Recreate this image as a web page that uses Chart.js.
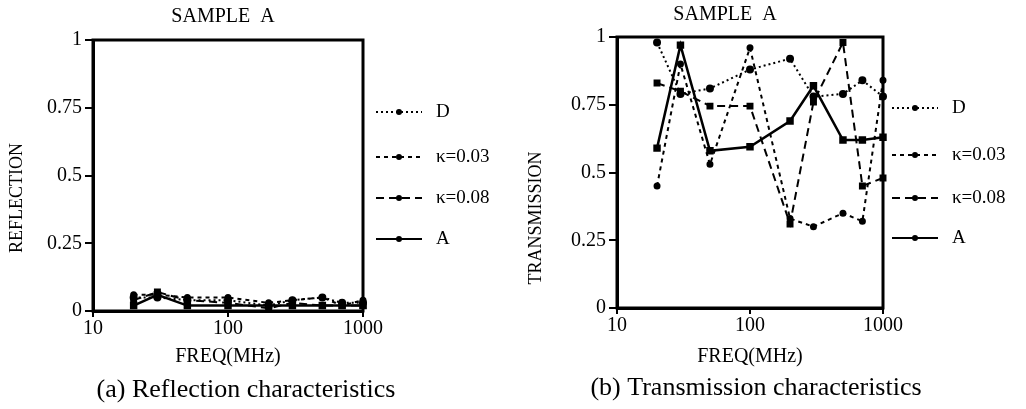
<!DOCTYPE html>
<html>
<head>
<meta charset="utf-8">
<script src="https://cdn.jsdelivr.net/npm/chart.js@4.4.1/dist/chart.umd.min.js"></script>
<style>
  html, body { margin: 0; padding: 0; background: #fff; }
  .panel { position: absolute; top: 0; width: 513px; height: 409px; }
  #left { left: 0; }
  #right { left: 513px; }
</style>
</head>
<body>
<div class="panel" id="left"><canvas id="reflChart" width="513" height="409"></canvas></div>
<div class="panel" id="right"><canvas id="transChart" width="513" height="409"></canvas></div>
<script>
// frequencies (MHz) and tick labels
const freqs = [20, 30, 50, 100, 200, 300, 500, 700, 1000];
const xTicks = [10, 100, 1000];
const yTicks = [0, 0.25, 0.5, 0.75, 1];
const seriesNames = ['D', 'κ=0.03', 'κ=0.08', 'A'];

// reflection values
const reflD   = [0.05, 0.05, 0.04, 0.04, 0.02, 0.04, 0.05, 0.03, 0.03];
const refl003 = [0.06, 0.06, 0.05, 0.05, 0.03, 0.04, 0.05, 0.02, 0.04];
const refl008 = [0.04, 0.07, 0.04, 0.03, 0.01, 0.03, 0.02, 0.02, 0.02];
const reflA   = [0.02, 0.06, 0.02, 0.02, 0.02, 0.02, 0.02, 0.02, 0.02];

// transmission values
const transD   = [0.98, 0.79, 0.81, 0.88, 0.92, 0.78, 0.79, 0.84, 0.78];
const trans003 = [0.45, 0.90, 0.53, 0.96, 0.33, 0.30, 0.35, 0.32, 0.84];
const trans008 = [0.83, 0.80, 0.745, 0.745, 0.31, 0.76, 0.98, 0.45, 0.48];
const transA   = [0.59, 0.97, 0.58, 0.595, 0.69, 0.82, 0.62, 0.62, 0.63];

const FONT = "'Liberation Serif', 'Times New Roman', serif";

const styles = [
  { borderDash: [2, 3], borderWidth: 2, pointStyle: 'circle', pointRadius: 3 },
  { borderDash: [4, 4], borderWidth: 2, pointStyle: 'circle', pointRadius: 2.5 },
  { borderDash: [8, 5], borderWidth: 2, pointStyle: 'rect', pointRadius: 3.5 },
  { borderDash: [], borderWidth: 2.5, pointStyle: 'rect', pointRadius: 3.5 }
];

function makeDatasets(seriesList) {
  return seriesList.map((vals, i) => ({
    label: seriesNames[i],
    data: freqs.map((f, j) => ({ x: f, y: vals[j] })),
    borderColor: '#000',
    backgroundColor: '#000',
    pointBackgroundColor: '#000',
    pointBorderColor: '#000',
    tension: 0,
    clip: false,
    ...styles[i]
  }));
}

// full box around the plot, title over the plot, y title, caption and hand-placed legend
const framePlugin = {
  id: 'frame',
  afterDraw(chart, args, opts) {
    const { ctx, chartArea } = chart;
    ctx.save();
    ctx.strokeStyle = '#000';
    ctx.lineWidth = 3;
    ctx.strokeRect(chartArea.left, chartArea.top, chartArea.right - chartArea.left, chartArea.bottom - chartArea.top);

    ctx.fillStyle = '#000';
    ctx.textBaseline = 'middle';
    ctx.textAlign = 'center';
    ctx.font = '20px ' + FONT;
    ctx.fillText('SAMPLE  A', opts.titleX, opts.titleY);
    ctx.font = '26px ' + FONT;
    ctx.fillText(opts.caption, opts.captionX, opts.captionY);

    ctx.save();
    ctx.translate(opts.yTitleX, opts.yTitleY);
    ctx.rotate(-Math.PI / 2);
    ctx.font = '18px ' + FONT;
    ctx.fillText(opts.yTitle, 0, 0);
    ctx.restore();

    // legend
    ctx.textAlign = 'left';
    ctx.font = '19px ' + FONT;
    chart.data.datasets.forEach((ds, i) => {
      const y = opts.legendY[i];
      ctx.beginPath();
      ctx.setLineDash(ds.borderDash || []);
      ctx.lineWidth = 2;
      ctx.moveTo(opts.legendX, y);
      ctx.lineTo(opts.legendX + opts.legendLen, y);
      ctx.stroke();
      ctx.setLineDash([]);
      ctx.beginPath();
      ctx.arc(opts.legendX + opts.legendLen / 2, y, 3, 0, Math.PI * 2);
      ctx.fill();
      ctx.fillText(ds.label, opts.legendX + opts.legendLen + 14, y);
    });
    ctx.restore();
  }
};

function makeChart(id, seriesList, yTitle, caption, geo) {
  const ctx = document.getElementById(id).getContext('2d');
  return new Chart(ctx, {
    type: 'line',
    data: { datasets: makeDatasets(seriesList) },
    plugins: [framePlugin],
    options: {
      responsive: false,
      animation: false,
      layout: { padding: { left: 0, right: geo.padRight, top: geo.padTop, bottom: 35 } },
      plugins: {
        legend: { display: false },
        tooltip: { enabled: false },
        frame: {
          legendX: geo.legendX, legendLen: 46, legendY: geo.legendY,
          titleX: geo.titleX, titleY: geo.titleY,
          yTitle: yTitle, yTitleX: geo.yTitleX, yTitleY: geo.yTitleY,
          caption: caption, captionX: geo.captionX, captionY: geo.captionY
        }
      },
      scales: {
        x: {
          type: 'logarithmic',
          min: 10,
          max: 1000,
          afterBuildTicks: (scale) => { scale.ticks = xTicks.map(v => ({ value: v })); },
          afterFit: (scale) => { scale.height = geo.xHeight; },
          ticks: {
            color: '#000',
            font: { family: FONT, size: 20 },
            padding: 0,
            maxRotation: 0,
            callback: (v) => String(v)
          },
          grid: { display: true, drawOnChartArea: false, tickLength: 6, color: '#000', lineWidth: 2 },
          border: { display: true, color: '#000', width: 3 },
          title: {
            display: true,
            text: 'FREQ(MHz)',
            color: '#000',
            font: { family: FONT, size: 20 },
            padding: { top: 0, bottom: 5 }
          }
        },
        y: {
          min: 0,
          max: 1,
          afterBuildTicks: (scale) => { scale.ticks = yTicks.map(v => ({ value: v })); },
          afterFit: (scale) => { scale.width = geo.yWidth; },
          ticks: {
            color: '#000',
            font: { family: FONT, size: 20 },
            padding: 3,
            callback: (v) => String(v)
          },
          grid: { display: true, drawOnChartArea: false, tickLength: 8, color: '#000', lineWidth: 2 },
          border: { display: true, color: '#000', width: 3 },
          title: { display: false }
        }
      }
    }
  });
}

makeChart('reflChart', [reflD, refl003, refl008, reflA], 'REFLECTION',
  '(a) Reflection characteristics',
  { padRight: 150, padTop: 40, yWidth: 93, xHeight: 63,
    titleX: 223, titleY: 17, captionX: 246, captionY: 390,
    yTitleX: 17, yTitleY: 198,
    legendX: 376, legendY: [112, 157, 198, 239] });

makeChart('transChart', [transD, trans003, trans008, transA], 'TRANSMISSION',
  '(b) Transmission characteristics',
  { padRight: 143, padTop: 37, yWidth: 104, xHeight: 66,
    titleX: 212, titleY: 15, captionX: 243, captionY: 388,
    yTitleX: 23, yTitleY: 218,
    legendX: 379, legendY: [108, 155, 198, 238] });
</script>
</body>
</html>
